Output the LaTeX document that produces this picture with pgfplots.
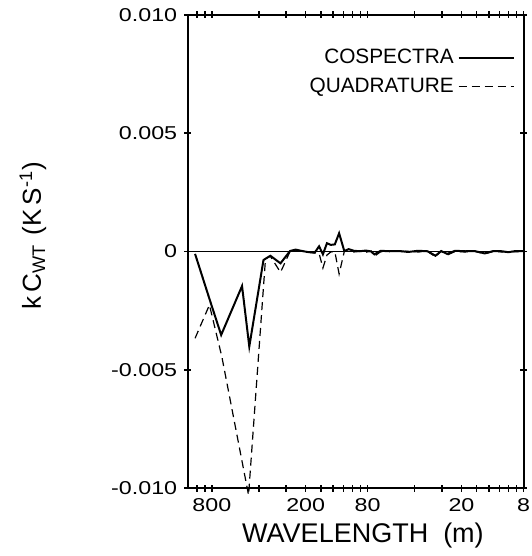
\documentclass[border=0pt]{standalone}
\usepackage{fontspec}
\setmainfont{Liberation Sans}
\newfontfamily\tickfont{Liberation Sans}[FakeStretch=1.25]
\usepackage{pgfplots}
\pgfplotsset{compat=1.18}
\usepackage{pgfplotstable}

\pgfplotstableread{
lam val
1025 -0.00010
829 -0.00200
697 -0.00353
512 -0.00146
460 -0.00402
373 -0.00036
337 -0.00018
290 -0.00050
252 0.00002
232 0.00008
214 0.00003
195 -0.00002
175 -0.00005
164 0.00022
155 -0.00012
146 0.00035
138 0.00028
130 0.00030
122 0.00077
113 0.00002
106 0.00010
98 0.00003
90 0.00001
82 0.00004
76 0.00000
72.5 -0.00012
66 0.00003
58 0.00001
50 0.00002
44 -0.00002
38 0.00003
33 0.00001
29.4 -0.00018
27 0.00002
24.7 -0.00010
22 0.00003
19 0.00001
16.5 0.00002
14.2 -0.00008
12.5 0.00002
11 0.00001
10 -0.00003
9 0.00002
8 0.00001
}\cospec

\pgfplotstableread{
lam val
1025 -0.00367
829 -0.00226
690 -0.00445
465 -0.01030
362 -0.00030
337 -0.00020
290 -0.00088
252 0.00000
232 0.00006
214 0.00002
195 -0.00003
175 -0.00006
164 -0.00008
155 -0.00070
146 -0.00015
138 -0.00002
130 0.00000
122 -0.00095
113 0.00000
106 0.00002
98 -0.00002
90 0.00001
82 -0.00003
76 0.00002
72.5 -0.00020
66 -0.00001
58 0.00002
50 0.00000
44 0.00001
38 -0.00002
33 0.00000
29.4 -0.00022
27 0.00001
24.7 -0.00015
22 0.00000
19 -0.00002
16.5 0.00001
14.2 -0.00010
12.5 0.00000
11 -0.00002
10 0.00000
9 -0.00001
8 0.00000
}\quadr

\begin{document}
\begin{tikzpicture}
\begin{axis}[
  scale only axis,
  width=167.9pt, height=236.5pt,
  xmode=log, x dir=reverse,
  xmin=8, xmax=1143,
  ymin=-0.010, ymax=0.010,
  scaled y ticks=false,
  clip=false,
  axis line style={line width=1pt},
  xtick={800,200,80,20,8},
  xticklabels={800,200,80,20,8},
  minor xtick={1000,888.9,400,266.67,160,133.33,114.29,100,88.89,40,26.67,16,13.33,11.43,10,8.889},
  ytick={-0.010,-0.005,0,0.005,0.010},
  yticklabels={-0.010,-0.005,0,0.005,0.010},
  tick align=center,
  xtick pos=both, ytick pos=both,
  xticklabel pos=lower, yticklabel pos=left,
  major tick length=3.5pt, minor tick length=3.5pt,
  every tick/.style={black, line width=0.8pt},
  ticklabel style={font=\tickfont\fontsize{9.3}{11}\selectfont},
  xlabel={WAVELENGTH\ \ (m)},
  xlabel style={at={(axis description cs:0.522,-0.101)}, anchor=center, font=\fontsize{13.5}{15}\selectfont},
  ylabel={k\,C\textsubscript{WT}\,\,(K\,S\textsuperscript{-1})},
  ylabel style={at={(axis description cs:-0.4607,0.533)}, anchor=center, font=\fontsize{13}{15}\selectfont},
  legend plot pos=right,
  legend cell align=right,
  legend image code/.code={\draw[#1] (0pt,0pt) -- (27.5pt,0pt);},
  legend style={draw=none, fill=none, at={(axis description cs:0.975,0.937)}, anchor=north east,
    font=\fontsize{10.4}{12}\selectfont, inner sep=0pt, row sep=1.5pt},
]
\addplot[black, line width=0.5pt, forget plot] coordinates {(1143,0) (8,0)};
\addplot[black, line width=1pt] table[x=lam, y=val] {\cospec};
\addlegendentry{COSPECTRA}
\addplot[black, line width=0.6pt, dash pattern=on 4pt off 2.5pt] table[x=lam, y=val] {\quadr};
\addlegendentry{QUADRATURE}
\coordinate (SW) at (axis description cs:0,0);
\coordinate (NE) at (axis description cs:1,1);
\end{axis}
\pgfresetboundingbox
\path[use as bounding box] ([shift={(-93.85pt,-34pt)}]SW) rectangle ([shift={(3.75pt,7.5pt)}]NE);
\end{tikzpicture}
\end{document}
